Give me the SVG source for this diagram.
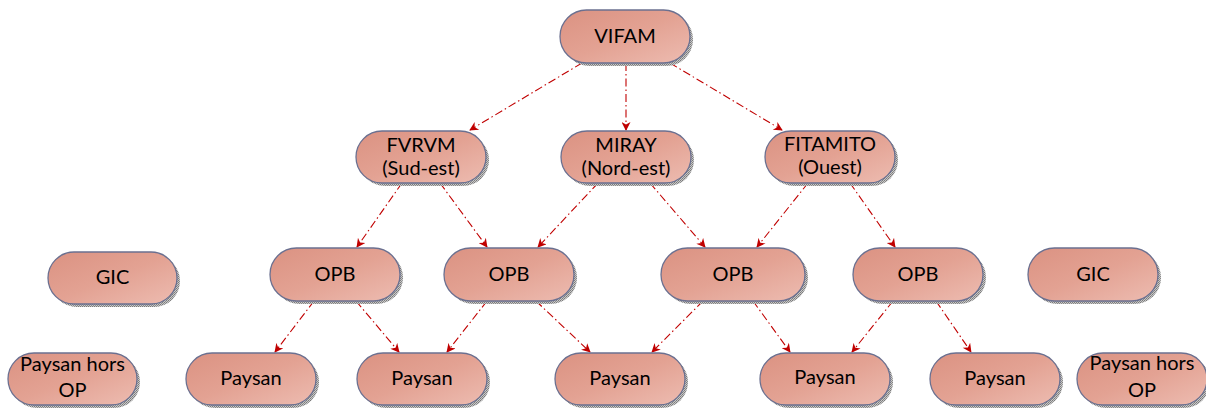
<svg xmlns="http://www.w3.org/2000/svg" width="1206" height="408" viewBox="0 0 1206 408">
<defs>
<linearGradient id="g" x1="0" y1="0" x2="1" y2="1">
<stop offset="0" stop-color="#db9282"/>
<stop offset="0.5" stop-color="#e3a293"/>
<stop offset="1" stop-color="#edbcb1"/>
</linearGradient>
<pattern id="sh" width="2" height="2" patternUnits="userSpaceOnUse">
<rect width="2" height="2" fill="#c8c8c8"/>
<rect width="1" height="1" fill="#7a7a7a"/>
<rect x="1" y="1" width="1" height="1" fill="#8a8a8a"/>
</pattern>
<marker id="ah" viewBox="0 0 10 10" refX="9" refY="5" markerWidth="10" markerHeight="9" markerUnits="userSpaceOnUse" orient="auto">
<path d="M0,0 L10,5 L0,10 L3,5 z" fill="#c00000"/>
</marker>
<style>
.sh{fill:url(#sh);}
.bx{fill:url(#g);stroke:#6b7090;stroke-width:1.3;}
.t{font-family:Lato,"Open Sans",sans-serif;font-size:20px;fill:#000;text-anchor:middle;}
.c{fill:none;stroke:#c00000;stroke-width:1.1;stroke-dasharray:8 3 1.5 3;marker-end:url(#ah);}
</style>
</defs>
<g id="connectors">
<line class="c" x1="582" y1="63" x2="470" y2="130"/>
<line class="c" x1="626" y1="63" x2="626" y2="130"/>
<line class="c" x1="670" y1="63" x2="782" y2="130"/>
<line class="c" x1="402" y1="183" x2="357" y2="247"/>
<line class="c" x1="440" y1="183" x2="487" y2="247"/>
<line class="c" x1="598" y1="183" x2="538" y2="247"/>
<line class="c" x1="650" y1="183" x2="705" y2="247"/>
<line class="c" x1="808" y1="183" x2="757" y2="247"/>
<line class="c" x1="850" y1="183" x2="895" y2="247"/>
<line class="c" x1="314" y1="301" x2="275" y2="352"/>
<line class="c" x1="356" y1="301" x2="399" y2="352"/>
<line class="c" x1="487" y1="301" x2="447" y2="352"/>
<line class="c" x1="536" y1="301" x2="590" y2="352"/>
<line class="c" x1="703" y1="301" x2="652" y2="352"/>
<line class="c" x1="753" y1="301" x2="790" y2="352"/>
<line class="c" x1="893" y1="301" x2="852" y2="352"/>
<line class="c" x1="936" y1="301" x2="971" y2="352"/>
</g>
<g id="n-vifam"><rect class="sh" x="563" y="13" width="130" height="53" rx="26.5"/><rect class="bx" x="560" y="10" width="130" height="53" rx="26.5"/><text class="t" x="625" y="43">VIFAM</text></g>
<g id="n-fvrvm"><rect class="sh" x="359" y="134" width="130" height="52" rx="26"/><rect class="bx" x="356" y="131" width="130" height="52" rx="26"/><text class="t" x="421" y="152">FVRVM</text><text class="t" x="421" y="175">(Sud-est)</text></g>
<g id="n-miray"><rect class="sh" x="564" y="134" width="130" height="52" rx="26"/><rect class="bx" x="561" y="131" width="130" height="52" rx="26"/><text class="t" x="626" y="152">MIRAY</text><text class="t" x="626" y="175">(Nord-est)</text></g>
<g id="n-fitamito"><rect class="sh" x="768" y="134" width="130" height="52" rx="26"/><rect class="bx" x="765" y="131" width="130" height="52" rx="26"/><text class="t" x="830" y="151">FITAMITO</text><text class="t" x="830" y="174">(Ouest)</text></g>
<g id="n-gic1"><rect class="sh" x="51" y="255" width="129" height="52" rx="26"/><rect class="bx" x="48" y="252" width="129" height="52" rx="26"/><text class="t" x="112.5" y="284">GIC</text></g>
<g id="n-opb1"><rect class="sh" x="273" y="251" width="130" height="53" rx="26.5"/><rect class="bx" x="270" y="248" width="130" height="53" rx="26.5"/><text class="t" x="335" y="281">OPB</text></g>
<g id="n-opb2"><rect class="sh" x="447" y="251" width="130" height="53" rx="26.5"/><rect class="bx" x="444" y="248" width="130" height="53" rx="26.5"/><text class="t" x="509" y="281">OPB</text></g>
<g id="n-opb3"><rect class="sh" x="664" y="251" width="144" height="53" rx="26.5"/><rect class="bx" x="661" y="248" width="144" height="53" rx="26.5"/><text class="t" x="733" y="281">OPB</text></g>
<g id="n-opb4"><rect class="sh" x="856" y="251" width="130" height="53" rx="26.5"/><rect class="bx" x="853" y="248" width="130" height="53" rx="26.5"/><text class="t" x="918" y="281">OPB</text></g>
<g id="n-gic2"><rect class="sh" x="1031" y="251" width="130" height="53" rx="26.5"/><rect class="bx" x="1028" y="248" width="130" height="53" rx="26.5"/><text class="t" x="1093" y="281">GIC</text></g>
<g id="n-hors1"><rect class="sh" x="11" y="356" width="129" height="52" rx="26"/><rect class="bx" x="8" y="353" width="129" height="52" rx="26"/><text class="t" x="72.5" y="371">Paysan hors</text><text class="t" x="72.5" y="397">OP</text></g>
<g id="n-paysan1"><rect class="sh" x="189" y="356" width="130" height="52" rx="26"/><rect class="bx" x="186" y="353" width="130" height="52" rx="26"/><text class="t" x="251" y="385">Paysan</text></g>
<g id="n-paysan2"><rect class="sh" x="360" y="356" width="130" height="52" rx="26"/><rect class="bx" x="357" y="353" width="130" height="52" rx="26"/><text class="t" x="422" y="385">Paysan</text></g>
<g id="n-paysan3"><rect class="sh" x="558" y="356" width="130" height="52" rx="26"/><rect class="bx" x="555" y="353" width="130" height="52" rx="26"/><text class="t" x="620" y="385">Paysan</text></g>
<g id="n-paysan4"><rect class="sh" x="763" y="356" width="130" height="52" rx="26"/><rect class="bx" x="760" y="353" width="130" height="52" rx="26"/><text class="t" x="825" y="384">Paysan</text></g>
<g id="n-paysan5"><rect class="sh" x="933" y="356" width="130" height="52" rx="26"/><rect class="bx" x="930" y="353" width="130" height="52" rx="26"/><text class="t" x="995" y="385">Paysan</text></g>
<g id="n-hors2"><rect class="sh" x="1080" y="356" width="130" height="52" rx="26"/><rect class="bx" x="1077" y="353" width="130" height="52" rx="26"/><text class="t" x="1142" y="370">Paysan hors</text><text class="t" x="1142" y="397">OP</text></g>
</svg>
